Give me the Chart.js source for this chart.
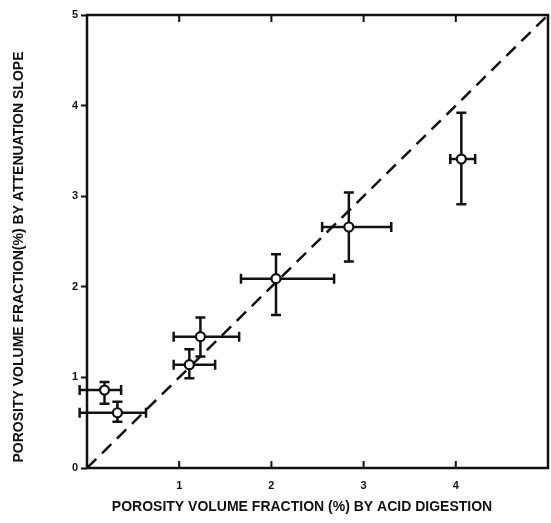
<!DOCTYPE html>
<html>
<head>
<meta charset="utf-8">
<script src="https://cdn.jsdelivr.net/npm/chart.js@4/dist/chart.umd.min.js"></script>
<style>
  html, body { margin: 0; padding: 0; background: #fff; }
  #wrap { width: 551px; height: 523px; }
</style>
</head>
<body>
<div id="wrap"><canvas id="porosity" width="551" height="523"></canvas></div>
<script>
// acid digestion (x) vs attenuation slope (y), with error ranges
var acidX    = [0.19, 0.33, 1.11, 1.23, 2.05, 2.84, 4.06];
var acidLo   = [-0.08, -0.08, 0.94, 0.94, 1.67, 2.55, 3.94];
var acidHi   = [0.37, 0.64, 1.39, 1.65, 2.68, 3.30, 4.21];
var slopeY   = [0.86, 0.61, 1.14, 1.45, 2.09, 2.66, 3.41];
var slopeLo  = [0.71, 0.51, 0.99, 1.23, 1.69, 2.28, 2.91];
var slopeHi  = [0.95, 0.73, 1.31, 1.66, 2.36, 3.04, 3.92];
var tickVals = [0, 1, 2, 3, 4, 5];
var lineX    = [0, 5];
var xTitle = "POROSITY VOLUME FRACTION (%) BY ACID DIGESTION";
var yTitle = "POROSITY VOLUME FRACTION(%) BY ATTENUATION SLOPE";

var pts = acidX.map(function (x, i) { return { x: x, y: slopeY[i] }; });
var fontFamily = "'Liberation Sans', Arial, sans-serif";

var frame = {
  id: "frame",
  beforeDatasetsDraw: function (chart) {
    var ctx = chart.ctx, a = chart.chartArea;
    var xs = chart.scales.x;
    ctx.save();
    ctx.strokeStyle = "#111";
    ctx.lineWidth = 2.5;
    ctx.strokeRect(a.left, a.top, a.right - a.left, a.bottom - a.top);
    // inward ticks on bottom and top
    ctx.lineWidth = 2;
    tickVals.forEach(function (v) {
      if (v === 0 || v === 5) return;
      var px = xs.getPixelForValue(v);
      ctx.beginPath();
      ctx.moveTo(px, a.bottom); ctx.lineTo(px, a.bottom - 7);
      ctx.moveTo(px, a.top); ctx.lineTo(px, a.top + 7);
      ctx.stroke();
    });
    ctx.restore();
  },
  afterDatasetsDraw: function (chart) {
    var ctx = chart.ctx;
    var xs = chart.scales.x, ys = chart.scales.y;
    ctx.save();
    ctx.strokeStyle = "#111";
    ctx.lineWidth = 2.5;
    acidX.forEach(function (x, i) {
      var cx = xs.getPixelForValue(x), cy = ys.getPixelForValue(slopeY[i]);
      var x0 = xs.getPixelForValue(acidLo[i]), x1 = xs.getPixelForValue(acidHi[i]);
      var y0 = ys.getPixelForValue(slopeLo[i]), y1 = ys.getPixelForValue(slopeHi[i]);
      ctx.beginPath();
      ctx.moveTo(x0, cy); ctx.lineTo(x1, cy);
      ctx.moveTo(cx, y0); ctx.lineTo(cx, y1);
      ctx.moveTo(x0, cy - 5); ctx.lineTo(x0, cy + 5);
      ctx.moveTo(x1, cy - 5); ctx.lineTo(x1, cy + 5);
      ctx.moveTo(cx - 5, y0); ctx.lineTo(cx + 5, y0);
      ctx.moveTo(cx - 5, y1); ctx.lineTo(cx + 5, y1);
      ctx.stroke();
      ctx.beginPath();
      ctx.fillStyle = "#fff";
      ctx.lineWidth = 2.2;
      ctx.arc(cx, cy, 4.5, 0, Math.PI * 2);
      ctx.fill();
      ctx.stroke();
      ctx.lineWidth = 2.5;
    });
    ctx.restore();
  },
  afterDraw: function (chart) {
    // axis titles, placed like the scanned figure
    var ctx = chart.ctx;
    ctx.save();
    ctx.fillStyle = "#111";
    ctx.font = "bold 14px " + fontFamily;
    ctx.textAlign = "center";
    ctx.textBaseline = "middle";
    ctx.fillText(xTitle, 302, 507);
    ctx.translate(19, 257);
    ctx.rotate(-Math.PI / 2);
    ctx.fillText(yTitle, 0, 0);
    ctx.restore();
  }
};

var tickFont = { family: fontFamily, size: 11, weight: "bold" };

new Chart(document.getElementById("porosity").getContext("2d"), {
  type: "scatter",
  data: {
    datasets: [
      {
        type: "line",
        data: lineX.map(function (v) { return { x: v, y: v }; }),
        borderColor: "#111",
        borderWidth: 2.5,
        borderDash: [13, 8],
        pointRadius: 0,
        fill: false
      },
      {
        data: pts,
        pointRadius: 0,
        showLine: false
      }
    ]
  },
  options: {
    responsive: false,
    animation: false,
    layout: { padding: { top: 15, right: 3, left: 0, bottom: 0 } },
    plugins: { legend: { display: false }, tooltip: { enabled: false } },
    scales: {
      x: {
        type: "linear",
        min: 0,
        max: 5,
        afterFit: function (s) { s.height = 55; s.paddingLeft = 0; s.paddingRight = 0; },
        border: { display: false },
        grid: { drawOnChartArea: false, drawTicks: false },
        ticks: {
          stepSize: 1,
          color: "#111",
          font: tickFont,
          padding: 11,
          callback: function (v) { return v === 0 || v === 5 ? "" : v; }
        }
      },
      y: {
        type: "linear",
        min: 0,
        max: 5,
        afterFit: function (s) { s.width = 87; s.paddingTop = 0; s.paddingBottom = 0; },
        border: { display: false },
        grid: { drawOnChartArea: false, tickLength: 6, tickWidth: 2, tickColor: "#111" },
        ticks: {
          stepSize: 1,
          color: "#111",
          font: tickFont,
          padding: 3
        }
      }
    }
  },
  plugins: [frame]
});
</script>
</body>
</html>
